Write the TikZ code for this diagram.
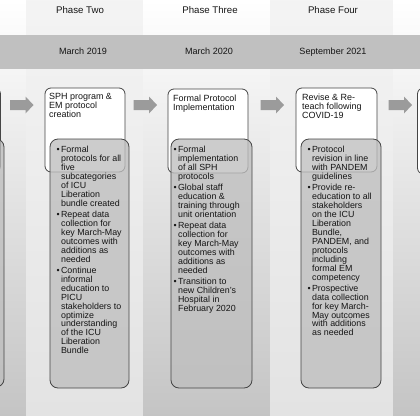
\documentclass[tikz,border=0pt]{standalone}
\usepackage{fontspec}
\setmainfont{Liberation Sans}
\definecolor{textcol}{HTML}{151515}
\definecolor{boxline}{HTML}{454545}
\definecolor{arrowcol}{HTML}{9B9B9B}
\definecolor{barcol}{HTML}{C0C0C0}
\definecolor{grayfill}{HTML}{BEBEBE}
\newcommand{\mybul}{\makebox[4.4pt][l]{\textbullet}}
\newcommand{\myind}{\hspace*{4.4pt}}
\begin{document}
\begin{tikzpicture}[x=1bp,y=-1bp,
  darkband/.style={top color=white,bottom color=gray!46,draw=none},
  lightband/.style={top color=gray!9,bottom color=gray!22,draw=none},
  whitebox/.style={draw=boxline,line width=0.8bp,fill=white,rounded corners=6bp},
  graybox/.style={draw=boxline,line width=0.8bp,fill=grayfill,fill opacity=0.78,rounded corners=8bp},
  blockarrow/.style={fill=arrowcol,draw=none},
  headtxt/.style={font=\fontsize{9.7}{11}\selectfont,text=textcol,inner sep=0,anchor=base},
  datetxt/.style={font=\fontsize{9.1}{10}\selectfont,text=textcol,inner sep=0,anchor=base},
  toptxt/.style={font=\fontsize{9.0}{9}\selectfont,text=textcol,inner sep=0,anchor=north west,align=left},
  bultxt/.style={font=\fontsize{8.9}{9}\selectfont,text=textcol,inner sep=0,anchor=north west,align=left}]
\useasboundingbox (0,0) rectangle (420,420);
\begin{scope}
\clip (0,0) rectangle (420,420);
% column bands
\fill[darkband] (0,0) rectangle (26,415);
\fill[lightband] (26,0) rectangle (143,415);
\fill[darkband] (143,0) rectangle (270,415);
\fill[lightband] (270,0) rectangle (393,415);
\fill[darkband] (393,0) rectangle (420,415);
% date bar
\fill[barcol] (0,35) rectangle (420,69);
% header labels
\node[headtxt] (p2) at (80,13.5) {Phase Two};
\node[headtxt] (p3) at (210,13.5) {Phase Three};
\node[headtxt] (p4) at (333,13.5) {Phase Four};
\node[datetxt] (d2) at (83,54) {March 2019};
\node[datetxt] (d3) at (209,54) {March 2020};
\node[datetxt] (d4) at (333,54) {September 2021};
% left partial boxes
\draw[whitebox] (-85,88) rectangle (0.5,172);
\draw[graybox] (-80,139) rectangle (4,387);
% white boxes
\draw[whitebox] (45,88) rectangle (125,172);
\draw[whitebox] (168,89) rectangle (248,173);
\draw[whitebox] (296,88) rectangle (377,172);
\draw[whitebox] (417.5,88) rectangle (500,174);
% gray boxes
\draw[graybox] (50,139) rectangle (129,388);
\draw[graybox] (171,139) rectangle (252,388);
\draw[graybox] (301,139) rectangle (381,388);
% arrows
\foreach \ax in {10,133.5,260.5,388.5}{
  \fill[blockarrow] (\ax,100) -- ++(15.5,0) -- ++(0,-3.5) -- ++(8,8.5) -- ++(-8,8.5) -- ++(0,-3.5) -- ++(-15.5,0) -- cycle;
}
\end{scope}
% top box texts
\node[toptxt] (t2) at (49,93.5) {SPH program \&\\EM protocol\\creation};
\node[toptxt] (t3) at (173,94.5) {Formal Protocol\\Implementation};
\node[toptxt] (t4) at (302,93.5) {Revise \& Re-\\teach following\\COVID-19};
% bullet texts
\node[bultxt] (b2) at (56.5,146) {\mybul Formal\\\myind protocols for all\\\myind five\\\myind subcategories\\\myind of ICU\\\myind Liberation\\\myind bundle created\\[2bp]
\mybul Repeat data\\\myind collection for\\\myind key March-May\\\myind outcomes with\\\myind additions as\\\myind needed\\[2bp]
\mybul Continue\\\myind informal\\\myind education to\\\myind PICU\\\myind stakeholders to\\\myind optimize\\\myind understanding\\\myind of the ICU\\\myind Liberation\\\myind Bundle};
\node[bultxt] (b3) at (173.5,146) {\mybul Formal\\\myind implementation\\\myind of all SPH\\\myind protocols\\[2bp]
\mybul Global staff\\\myind education \&\\\myind training through\\\myind unit orientation\\[2bp]
\mybul Repeat data\\\myind collection for\\\myind key March-May\\\myind outcomes with\\\myind additions as\\\myind needed\\[2bp]
\mybul Transition to\\\myind new Children's\\\myind Hospital in\\\myind February 2020};
\node[bultxt] (b4) at (307.5,146) {\mybul Protocol\\\myind revision in line\\\myind with PANDEM\\\myind guidelines\\[2bp]
\mybul Provide re-\\\myind education to all\\\myind stakeholders\\\myind on the ICU\\\myind Liberation\\\myind Bundle,\\\myind PANDEM, and\\\myind protocols\\\myind including\\\myind formal EM\\\myind competency\\[2bp]
\mybul Prospective\\\myind data collection\\\myind for key March-\\\myind May outcomes\\\myind with additions\\\myind as needed};
\end{tikzpicture}
\end{document}
